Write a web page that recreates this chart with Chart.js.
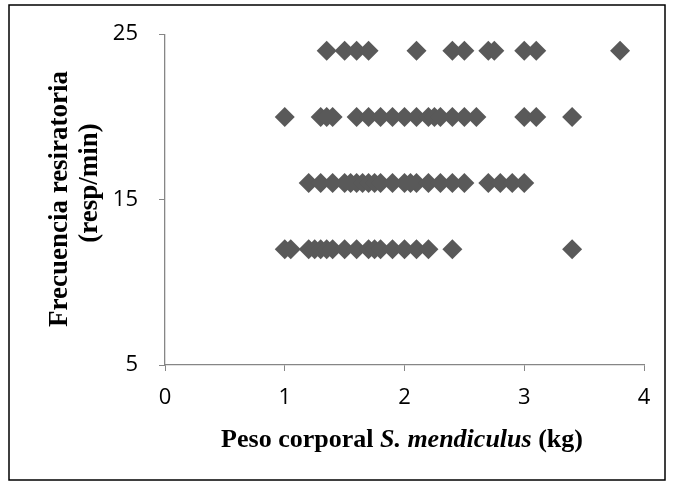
<!DOCTYPE html>
<html>
<head>
<meta charset="utf-8">
<script src="https://cdn.jsdelivr.net/npm/chart.js@4/dist/chart.umd.min.js"></script>
<style>
  html, body { margin: 0; padding: 0; background: #fff; }
  canvas { display: block; }
</style>
</head>
<body>
<canvas id="chart" width="674" height="484"></canvas>
<script>
/* ==================== DATA ==================== */
// peso corporal (kg) of each point, grouped by its frecuencia value
const frecuencias = [24, 20, 16, 12];
const pesoFr24 = [1.35, 1.5, 1.6, 1.7, 2.1, 2.4, 2.5, 2.7, 2.75, 3.0, 3.1, 3.8];
const pesoFr20 = [1.0, 1.3, 1.35, 1.4, 1.6, 1.7, 1.8, 1.9, 2.0, 2.1, 2.2, 2.25, 2.3, 2.4, 2.5, 2.6, 3.0, 3.1, 3.4];
const pesoFr16 = [1.2, 1.3, 1.4, 1.5, 1.55, 1.6, 1.65, 1.7, 1.75, 1.8, 1.9, 2.0, 2.05, 2.1, 2.2, 2.3, 2.4, 2.5, 2.7, 2.8, 2.9, 3.0];
const pesoFr12 = [1.0, 1.05, 1.2, 1.25, 1.3, 1.35, 1.4, 1.5, 1.6, 1.7, 1.75, 1.8, 1.9, 2.0, 2.1, 2.2, 2.4, 3.4];
const xTicks = [0, 1, 2, 3, 4];
const yTicks = [5, 15, 25];

const grupos = [pesoFr24, pesoFr20, pesoFr16, pesoFr12];
const puntos = [];
grupos.forEach((g, i) => g.forEach(x => puntos.push({ x: x, y: frecuencias[i] })));

/* ==================== STYLE ==================== */
const AXIS = '#868686';
const tickFont = { family: 'Open Sans', size: 22 };

// frame + axis titles (x title mixes bold and bold italic)
const decor = {
  id: 'decor',
  afterDraw(chart) {
    const ctx = chart.ctx;
    ctx.save();
    ctx.strokeStyle = '#000';
    ctx.lineWidth = 1.5;
    ctx.strokeRect(9, 5, 656, 475);

    ctx.fillStyle = '#000';
    ctx.textBaseline = 'alphabetic';
    const parts = [
      ['Peso corporal ', 'bold 26px "Liberation Serif"'],
      ['S. mendiculus', 'italic bold 26px "Liberation Serif"'],
      [' (kg)', 'bold 26px "Liberation Serif"']
    ];
    let total = 0;
    parts.forEach(p => { ctx.font = p[1]; total += ctx.measureText(p[0]).width; });
    let x = 402 - total / 2;
    parts.forEach(p => {
      ctx.font = p[1];
      ctx.fillText(p[0], x, 447);
      x += ctx.measureText(p[0]).width;
    });

    ctx.font = 'bold 27px "Liberation Serif"';
    ctx.textAlign = 'center';
    ctx.textBaseline = 'middle';
    ctx.translate(60, 199);
    ctx.rotate(-Math.PI / 2);
    ctx.fillText('Frecuencia resiratoria', 0, 0);
    ctx.fillText('(resp/min)', 16, 30);
    ctx.restore();
  }
};

/* ==================== CHART ==================== */
new Chart(document.getElementById('chart'), {
  type: 'scatter',
  data: {
    datasets: [{
      data: puntos,
      pointStyle: 'rectRot',
      pointRadius: 10,
      pointHoverRadius: 10,
      pointBorderWidth: 0,
      backgroundColor: '#595959',
      borderColor: '#595959'
    }]
  },
  options: {
    responsive: false,
    animation: false,
    events: [],
    layout: { padding: { left: 0, top: 33, right: 30, bottom: 0 } },
    plugins: { legend: { display: false }, tooltip: { enabled: false } },
    scales: {
      x: {
        type: 'linear',
        min: 0, max: 4,
        afterBuildTicks: s => { s.ticks = xTicks.map(v => ({ value: v })); },
        afterFit: s => { s.height = 119; },
        ticks: { font: tickFont, color: '#000', padding: 14, maxRotation: 0 },
        grid: { drawOnChartArea: false, drawTicks: true, tickLength: 6, color: AXIS },
        border: { color: AXIS, width: 1.3 }
      },
      y: {
        type: 'linear',
        min: 5, max: 25,
        afterBuildTicks: s => { s.ticks = yTicks.map(v => ({ value: v })); },
        afterFit: s => { s.width = 165; },
        ticks: { font: tickFont, color: '#000', padding: 21 },
        grid: { drawOnChartArea: false, drawTicks: true, tickLength: 6, color: AXIS },
        border: { color: AXIS, width: 1.3 }
      }
    }
  },
  plugins: [decor]
});
</script>
</body>
</html>
